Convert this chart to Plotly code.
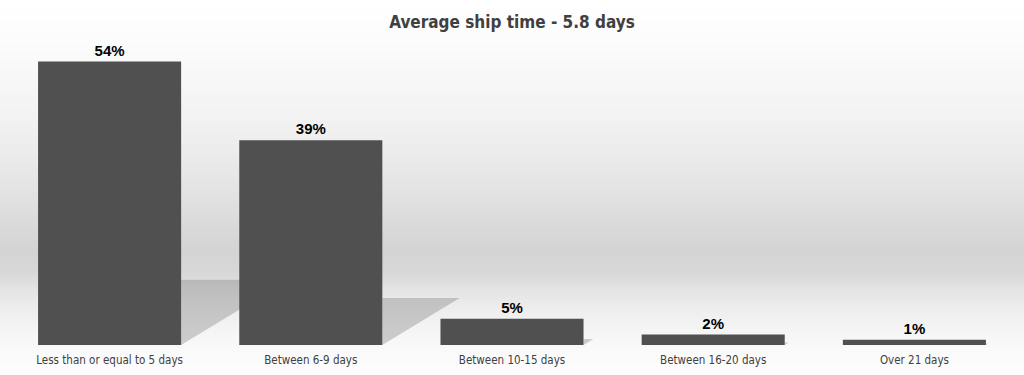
import plotly.graph_objects as go
import numpy as np

categories = ["Less than or equal to 5 days", "Between 6-9 days", "Between 10-15 days",
              "Between 16-20 days", "Over 21 days"]
share_pct = [54, 39, 5, 2, 1]
title_text = "Average ship time - 5.8 days"

W, H = 1024, 375
BAR_W = 0.711
T, B = 30, 30
COND = "DejaVu Sans Condensed, Liberation Sans Narrow, Arial Narrow"

fig = go.Figure()

xs = list(range(len(categories)))
fig.add_trace(go.Bar(
    x=xs, y=share_pct, width=BAR_W,
    marker=dict(color="#505050", line=dict(width=0)),
    texttemplate="%{y}%", textposition="outside",
    textfont=dict(family="Liberation Sans, Arial", size=15, color="#000000", weight="bold"),
    cliponaxis=False, hoverinfo="skip",
))

shapes = []
# background gradient strips, described in pixel rows of the page
stops_y = [0, 40, 90, 130, 170, 210, 250, 270, 290, 310, 330, 350, 375]
stops_v = [255, 252, 246, 240, 232, 222, 212, 214, 228, 238, 245, 250, 253]
step = 3
ph = H - T - B
for y0 in range(0, H, step):
    v = int(round(np.interp(y0 + step / 2, stops_y, stops_v)))
    py0 = (H - B - (y0 + step)) / ph
    py1 = (H - B - y0) / ph
    shapes.append(dict(type="rect", xref="paper", yref="paper",
                       x0=-0.01, x1=1.01, y0=py0 - 0.001, y1=py1 + 0.001, layer="below",
                       line=dict(width=0), fillcolor=f"rgb({v},{v},{v})"))

# cast shadows derived from bar values
for i, v in enumerate(share_pct):
    h = 0.23 * v
    L = v * 0.00985
    xr = i + BAR_W / 2
    shapes.append(dict(type="path", xref="x", yref="y", layer="below",
                       path=f"M {xr},0 L {xr},{h} L {xr + L},{h} Z",
                       fillcolor="rgba(90,90,90,0.28)", line=dict(width=0)))

fig.update_layout(
    width=W, height=H,
    margin=dict(l=9, r=9, t=T, b=B, pad=0),
    paper_bgcolor="#ffffff", plot_bgcolor="rgba(0,0,0,0)",
    showlegend=False,
    bargap=0.29,
    shapes=shapes,
    title=dict(text=title_text, x=0.5, xanchor="center", y=1 - 22 / H, yanchor="middle",
               font=dict(family=COND, size=17, color="#404040", weight="bold")),
    xaxis=dict(range=[-0.5, 4.5], tickvals=xs, ticktext=categories, showgrid=False,
               zeroline=False, showline=False, ticks="", ticklen=0, ticklabelstandoff=6,
               tickfont=dict(family=COND, size=11.5, color="#404040"), fixedrange=True),
    yaxis=dict(range=[0, 60], visible=False, showgrid=False, zeroline=False, fixedrange=True),
)

fig.write_html("out.html", config={"displayModeBar": False})
